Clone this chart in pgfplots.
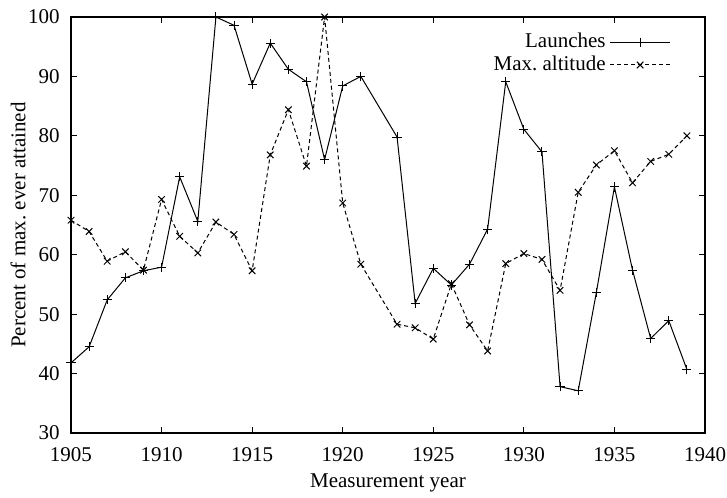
\documentclass[border=0pt]{standalone}
\usepackage{fontspec}
\setmainfont{Liberation Serif}
\usepackage{pgfplots}
\pgfplotsset{compat=1.18}
\pgfplotsset{mylegend/.style={legend image code/.code={\draw[mark repeat=2,mark phase=2,##1] plot coordinates {(0pt,0pt) (15pt,0pt) (30pt,0pt)};}}}
\begin{document}
\fontsize{10.5}{12.5}\selectfont
\begin{tikzpicture}
\begin{axis}[
  scale only axis,
  width=317pt, height=208pt,
  xmin=1905, xmax=1940, ymin=30, ymax=100,
  xtick={1905,1910,...,1940}, ytick={30,40,...,100},
  /pgf/number format/assume math mode=true,
  xticklabel={\pgfmathprintnumber[1000 sep={},fixed]{\tick}},
  tick align=inside, major tick length=3pt,
  tick style={line width=0.5pt, black},
  axis line style={line width=0.6pt},
  xlabel={Measurement year},
  ylabel={Percent of max.\ ever attained},
  xticklabel style={yshift=-3.5pt},
  yticklabel style={xshift=-2pt},
  xlabel style={yshift=1pt},
  ylabel style={yshift=-6pt},
  tick label style={font=\fontsize{10.5}{12.5}\selectfont},
  label style={font=\fontsize{10.5}{12.5}\selectfont},
  legend style={draw=none, fill=none, at={(1,1)}, anchor=north east, xshift=-14pt, yshift=-4pt,
    legend cell align=right, row sep=-1.5pt, font=\fontsize{10.5}{12.5}\selectfont},
  legend plot pos=right,
]
\addplot[black, line width=0.5pt, mark=+, mark size=2.3pt, mylegend]
coordinates {
(1905,41.8) (1906,44.5) (1907,52.4) (1908,56.1) (1909,57.3) (1910,57.9)
(1911,73.1) (1912,65.6) (1913,100) (1914,98.6) (1915,88.7) (1916,95.6)
(1917,91.2) (1918,89.1) (1919,76.0) (1920,88.4) (1921,90.0) (1923,79.8)
(1924,51.8) (1925,57.7) (1926,54.9) (1927,58.4) (1928,64.3) (1929,89.1)
(1930,81.1) (1931,77.3) (1932,37.8) (1933,37.1) (1934,53.6) (1935,71.4)
(1936,57.4) (1937,45.9) (1938,48.9) (1939,40.7)
};
\addlegendentry{Launches}
\addplot[black, line width=0.5pt, dash pattern=on 2pt off 1.5pt, mark=x, mark size=2.3pt,
  mark options={solid}, mylegend]
coordinates {
(1905,65.8) (1906,63.9) (1907,58.9) (1908,60.5) (1909,57.4) (1910,69.3)
(1911,63.1) (1912,60.3) (1913,65.5) (1914,63.4) (1915,57.3) (1916,76.8)
(1917,84.4) (1918,74.9) (1919,100) (1920,68.7) (1921,58.4) (1923,48.3)
(1924,47.7) (1925,45.8) (1926,55.1) (1927,48.2) (1928,43.8) (1929,58.5)
(1930,60.2) (1931,59.2) (1932,54.0) (1933,70.5) (1934,75.1) (1935,77.5)
(1936,72.1) (1937,75.7) (1938,76.9) (1939,80.0)
};
\addlegendentry{Max.\ altitude}
\end{axis}
\pgfresetboundingbox
\path ([shift={(-35.5pt,-32.5pt)}]current axis.south west) rectangle ([shift={(11pt,8.5pt)}]current axis.north east);
\end{tikzpicture}
\end{document}
